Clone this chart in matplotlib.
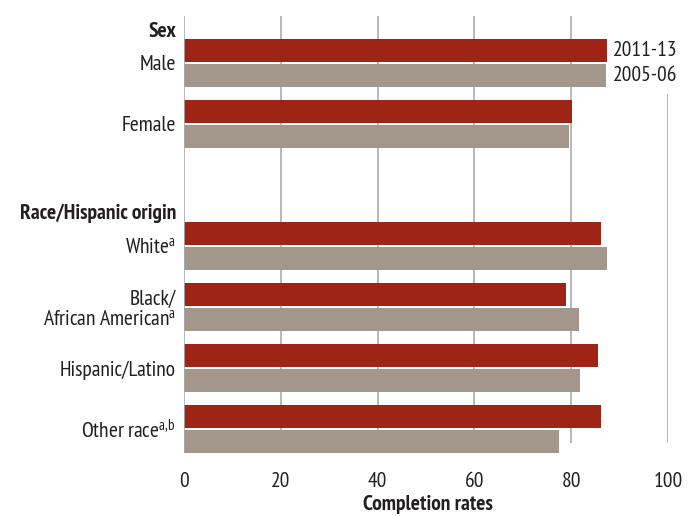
import matplotlib
matplotlib.use("Agg")
import matplotlib.pyplot as plt
import matplotlib.font_manager as fm
import matplotlib.transforms as mtransforms

# ---------------- data ----------------
categories = ["Male", "Female", "White", "Black/\nAfrican American", "Hispanic/Latino", "Other race"]
superscripts = ["", "", "a", "a", "", "a,b"]
slots = [0, 1, 3, 4, 5, 6]
group_headers = ["Sex", "Race/Hispanic origin"]
header_slots = [-0.51, 2.46]
rate_2011_13 = [87.4, 80.2, 86.2, 79.0, 85.6, 86.2]
rate_2005_06 = [87.2, 79.6, 87.4, 81.7, 81.9, 77.5]
series_labels = ["2011-13", "2005-06"]
xticks = [0, 20, 40, 60, 80, 100]
xlabel = "Completion rates"

# ---------------- font ----------------
available = {f.name for f in fm.fontManager.ttflist}
font = "DejaVu Sans"
for cand in ["PT Sans Narrow", "Fira Sans Condensed", "Roboto Condensed",
             "Open Sans Condensed", "Archivo Narrow", "Liberation Sans Narrow"]:
    if cand in available:
        font = cand
        break
plt.rcParams["font.family"] = [font, "DejaVu Sans"]
plt.rcParams["mathtext.fontset"] = "custom"
plt.rcParams["mathtext.rm"] = font
plt.rcParams["mathtext.it"] = font
plt.rcParams["mathtext.bf"] = font + ":bold"

FS = 15.5
RED = "#9E2416"
GRAY = "#A3968B"
GRID = "#ABABAB"
TXT = "#231F20"

fig = plt.figure(figsize=(6.95, 5.16), dpi=100)
ax = fig.add_axes([184 / 695, 1 - 453 / 516, (668 - 184) / 695, (453 - 16) / 516])
ax.set_xlim(0, 100)
ax.set_ylim(6.393, -0.77)

h = 0.375
off = 0.205
y_red = [s - off for s in slots]
y_gray = [s + off for s in slots]
ax.barh(y_red, rate_2011_13, height=h, color=RED, zorder=3)
ax.barh(y_gray, rate_2005_06, height=h, color=GRAY, zorder=3)

# gridlines
ax.vlines(xticks[1:-1], -0.77, 6.23, color=GRID, lw=1.2, zorder=1)
ax.vlines([xticks[-1]], 0.508, 6.23, color=GRID, lw=1.2, zorder=1)
ax.vlines([xticks[0]], -0.77, 6.393, color=GRID, lw=1.2, zorder=4)

for s in ax.spines.values():
    s.set_visible(False)

ax.set_xticks(xticks)
ax.set_xticklabels([str(t) for t in xticks])
ax.tick_params(axis="x", length=0, pad=14, labelsize=FS, labelcolor=TXT)

labels = []
for c, sup in zip(categories, superscripts):
    if sup:
        labels.append(c + r"$^{\mathrm{" + sup.replace(",", "{,}") + "}}$")
    else:
        labels.append(c)
ax.set_yticks(slots)
ax.set_yticklabels(labels)
ax.tick_params(axis="y", length=0, pad=6, labelsize=FS, labelcolor=TXT)
for t in ax.get_yticklabels():
    t.set_linespacing(1.05)

trans = mtransforms.blended_transform_factory(ax.transAxes, ax.transData)
for hdr, ys in zip(group_headers, header_slots):
    ax.text(-8 / 484, ys, hdr, transform=trans, ha="right", va="center",
            fontsize=FS, fontweight="bold", color=TXT)

ax.set_xlabel(xlabel, fontsize=FS, fontweight="bold", color=TXT)
ax.xaxis.set_label_coords(0.503, -(510 - 453) / 437)
ax.xaxis.label.set_va("baseline")

# series labels beside the first group
xmax = max(rate_2011_13[0], rate_2005_06[0])
for lab, yy in zip(series_labels, [y_red[0], y_gray[0]]):
    ax.annotate(lab, xy=(xmax, yy), xytext=(6, 0), textcoords="offset pixels",
                ha="left", va="center", fontsize=FS, color=TXT)

fig.savefig("out.png", dpi=100)
